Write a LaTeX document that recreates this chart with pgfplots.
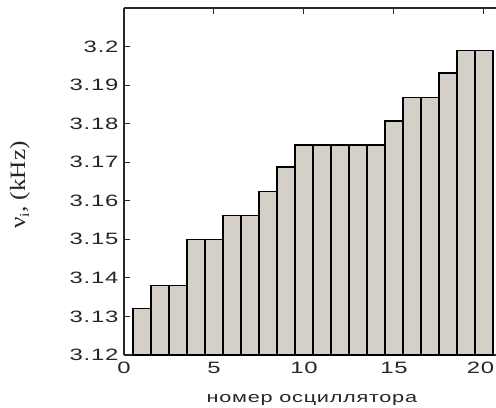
\documentclass[border=0pt]{standalone}
\usepackage{fontspec}
\setmainfont{Liberation Sans}[FakeStretch=1.45,LetterSpace=5]
\newfontfamily\serifnu{Liberation Serif}[FakeStretch=1.15]
\usepackage{pgfplots}
\pgfplotsset{compat=1.18}
\definecolor{barfill}{RGB}{212,208,200}
\definecolor{axcol}{RGB}{40,40,40}
\begin{document}
\begin{tikzpicture}
\begin{axis}[
  at={(0,0)}, anchor=south west,
  scale only axis, width=372bp, height=347bp,
  xmin=0, xmax=20.67, ymin=3.12, ymax=3.21,
  axis x line*=box, axis y line*=left,
  axis line style={axcol, line width=1.4pt},
  xtick={0,5,10,15,20},
  ytick={3.12,3.13,3.14,3.15,3.16,3.17,3.18,3.19,3.2},
  yticklabels={3.12,3.13,3.14,3.15,3.16,3.17,3.18,3.19,3.2},
  xticklabels={0,5,10,15,\kern-7bp 20},
  tick align=inside,
  major tick length=6bp,
  tick style={axcol, line width=1pt},
  ticklabel style={font=\fontsize{16.5}{19}\selectfont, text=black!85},
  /pgf/number format/assume math mode=true,
  yticklabel style={xshift=-2bp},
  xticklabel style={yshift=-4bp},
  xlabel={номер осциллятора},
  xlabel style={font=\fontsize{15}{17}\selectfont, text=black!85, at={(axis description cs:0.505,-0.13)}, anchor=center},
  ylabel={{\serifnu ν\raisebox{-0.4ex}{\fontsize{14}{15}\selectfont i}, (kHz)}},
  ylabel style={font=\fontsize{22}{24}\selectfont, text=black!85, at={(axis description cs:-0.28,0.49)}, anchor=center},
]
\addplot[ybar, bar width=1, bar shift=0, fill=barfill, draw=black, line width=1.5pt]
coordinates {
(1,3.1320) (2,3.1380) (3,3.1380) (4,3.1500) (5,3.1500)
(6,3.1562) (7,3.1562) (8,3.1624) (9,3.1687) (10,3.1745)
(11,3.1745) (12,3.1745) (13,3.1745) (14,3.1745) (15,3.1807)
(16,3.1868) (17,3.1868) (18,3.1932) (19,3.1990) (20,3.1990)
};
\end{axis}
\pgfresetboundingbox
\path (-124bp,-53bp) rectangle (372bp,355bp);
\end{tikzpicture}
\end{document}
